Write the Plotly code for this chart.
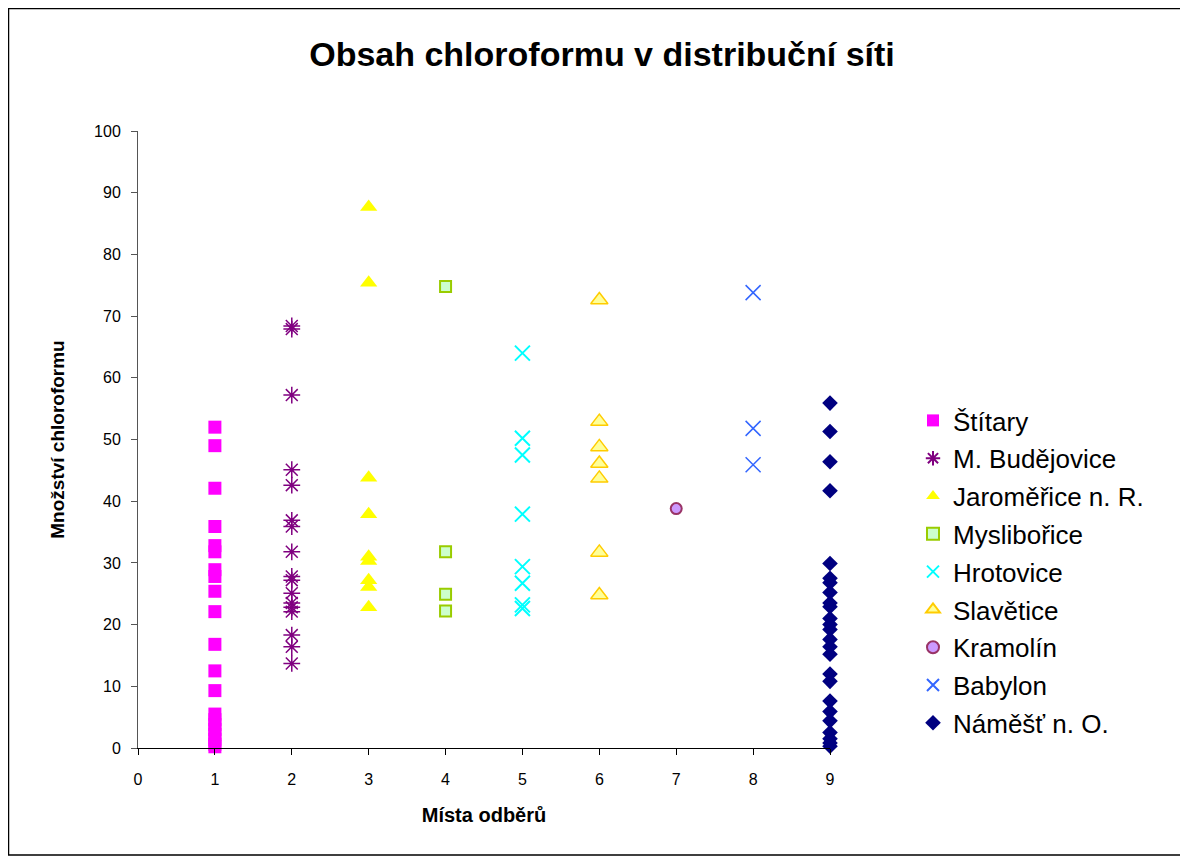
import plotly.graph_objects as go

# ---- data ----
x_positions = [1, 2, 3, 4, 5, 6, 7, 8, 9]
site_names = ["Štítary", "M. Budějovice", "Jaroměřice n. R.", "Myslibořice",
              "Hrotovice", "Slavětice", "Kramolín", "Babylon", "Náměšť n. O."]

stitary = [52.0, 49.0, 42.1, 35.9, 32.8, 31.8, 28.9, 27.8, 25.4, 22.1, 16.8, 12.5,
           9.3, 5.5, 4.6, 3.8, 3.0, 2.2, 1.4, 0.6, 0.2]
budejovice = [68.4, 67.9, 57.2, 45.1, 42.6, 36.9, 35.9, 31.8, 27.8, 27.2, 25.1,
              23.5, 22.8, 22.1, 18.3, 16.4, 13.7]
jaromerice = [87.7, 75.4, 43.8, 37.9, 31.0, 30.3, 27.2, 26.1, 22.8]
myslibor = [74.8, 31.8, 24.9, 22.2]
hrotovice = [64.0, 50.2, 47.5, 37.9, 29.4, 26.7, 23.2, 22.6]
slavetice = [72.6, 52.9, 48.8, 46.1, 43.7, 31.7, 24.8]
kramolin = [38.8]
babylon = [73.8, 51.8, 45.9]
namest = [55.9, 51.3, 46.4, 41.7, 29.9, 27.5, 26.8, 25.2, 23.5, 22.9, 21.0, 20.0,
          19.2, 17.6, 16.4, 15.2, 12.0, 10.8, 7.6, 5.9, 4.4, 2.5, 1.5, 0.8, 0.3]

series_values = [stitary, budejovice, jaromerice, myslibor, hrotovice,
                 slavetice, kramolin, babylon, namest]

x_ticks = list(range(0, 10))
y_ticks = list(range(0, 101, 10))

title_text = "Obsah chloroformu v distribuční síti"
x_title = "Místa odběrů"
y_title = "Množství chloroformu"

# ---- styles ----
markers = [
    dict(symbol="square", size=13, color="#FF00FF"),
    dict(symbol="asterisk-open", size=14, color="#800080", line=dict(color="#800080", width=1.5)),
    dict(symbol="triangle-up", size=15, color="#FFFF00"),
    dict(symbol="square", size=11, color="#CCFFCC", line=dict(color="#99CC00", width=2)),
    dict(symbol="x-thin-open", size=15, color="#00FFFF", line=dict(color="#00FFFF", width=2)),
    dict(symbol="triangle-up", size=15, color="#FFFF99", line=dict(color="#FFCC00", width=1.5)),
    dict(symbol="circle", size=11, color="#CC99FF", line=dict(color="#993366", width=2)),
    dict(symbol="x-thin-open", size=15, color="#3366FF", line=dict(color="#3366FF", width=1.5)),
    dict(symbol="diamond", size=12, color="#000080"),
]

fig = go.Figure()
for i, (name, vals) in enumerate(zip(site_names, series_values)):
    fig.add_trace(go.Scatter(
        x=[x_positions[i]] * len(vals), y=vals, mode="markers", name=name,
        marker=markers[i], legendgroup=f"g{i}", cliponaxis=False,
    ))

FONT = "Arial, 'Liberation Sans', sans-serif"
OFF = 8  # page body margin
W, H = 1188 - OFF, 857 - OFF
L, T = 138 - OFF, 131 - OFF
R, B = 358, 109
pw, ph = W - L - R, H - T - B

def px_x(p):
    return (p - OFF - L) / pw

def px_y(p):
    return (H - B - (p - OFF)) / ph

fig.update_layout(
    width=W, height=H,
    margin=dict(l=L, r=R, t=T, b=B, pad=0),
    paper_bgcolor="white", plot_bgcolor="white",
    font=dict(family=FONT, color="black"),
    title=dict(text=f"<b>{title_text}</b>", x=(602 - OFF) / W, xanchor="center",
               y=1 - (54 - OFF) / H, yanchor="middle", font=dict(size=34, family=FONT)),
    xaxis=dict(range=[0, 9], tickvals=x_ticks, ticktext=[str(v) for v in x_ticks],
               showgrid=False, zeroline=False, showline=True, linecolor="black",
               linewidth=1, ticks="outside", ticklen=6, tickcolor="black",
               tickfont=dict(size=16), ticklabelstandoff=11,
               title=dict(text=f"<b>{x_title}</b>", font=dict(size=20), standoff=20)),
    yaxis=dict(range=[0, 100], tickvals=y_ticks, showgrid=False, zeroline=False,
               showline=True, linecolor="#555555", linewidth=1, ticks="outside",
               ticklen=6, tickcolor="#555555", tickfont=dict(size=16), ticklabelstandoff=7,
               title=dict(text=f"<b>{y_title}</b>", font=dict(size=19), standoff=24)),
    legend=dict(x=px_x(913), y=px_y(397), xanchor="left", yanchor="top",
                font=dict(size=26, family=FONT), traceorder="grouped",
                tracegroupgap=1, itemsizing="constant", bgcolor="rgba(0,0,0,0)"),
    showlegend=True,
    shapes=[dict(type="rect", xref="paper", yref="paper",
                 x0=px_x(8.5), x1=px_x(1183), y0=px_y(855), y1=px_y(8.5),
                 line=dict(color="black", width=1.5), fillcolor="rgba(0,0,0,0)", layer="below")],
)

fig.write_html("out.html")
